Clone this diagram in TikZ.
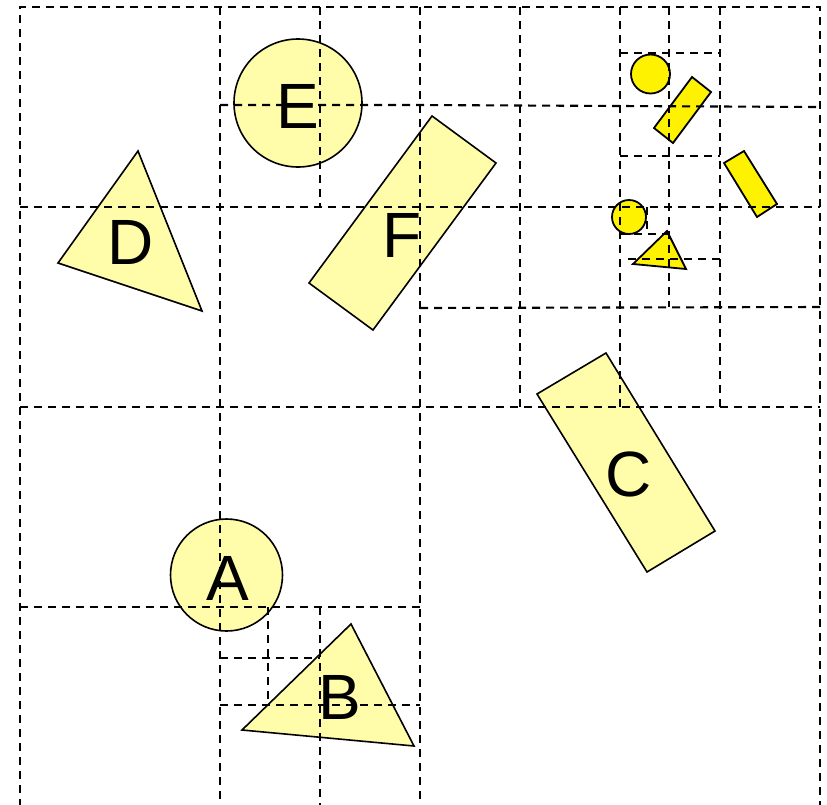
\documentclass[tikz,border=0pt]{standalone}
\usepackage{fontspec}
\setmainfont{Liberation Sans}
\begin{document}
\begin{tikzpicture}[x=1pt,y=-1pt,
  grid/.style={draw=black,line width=2.1pt,dash pattern=on 8pt off 6pt},
  pale/.style={draw=black,line width=1.6pt,fill=paleyellow},
  bright/.style={draw=black,line width=1.8pt,fill=yellow},
  lbl/.style={inner sep=0pt,anchor=base,font=\fontsize{64}{70}\selectfont}]
\definecolor{paleyellow}{HTML}{FFFCAA}
\useasboundingbox (0,0) rectangle (827,804);
\clip (0,0) rectangle (827,804);
% big shapes
\draw[pale] (298,103) circle (64);
\draw[pale] (226.5,575) circle (56);
\draw[pale] (138,151) -- (58,263) -- (202,311) -- cycle;
\draw[pale] (351,624) -- (242,730) -- (414,746) -- cycle;
\draw[pale] (432,116) -- (496,163) -- (373,330) -- (309,283) -- cycle;
\draw[pale] (537,394) -- (606,353) -- (715,531) -- (647,572) -- cycle;
% small bright shapes
\draw[bright] (650.5,74) circle (19.5);
\draw[bright] (692,77) -- (711,92) -- (673,143) -- (654,128) -- cycle;
\draw[bright] (724,163) -- (744,151) -- (777,204) -- (757,217) -- cycle;
\draw[bright] (629,217) circle (17);
\draw[bright] (667,231) -- (633,264) -- (686,269) -- cycle;
% grid lines
\draw[grid] (20,807) -- (20,7) -- (820,7) -- (820,807);
\draw[grid] (220,7) -- (220,807);
\draw[grid] (420,7) -- (420,807);
\draw[grid] (520,7) -- (520,407);
\draw[grid] (620,7) -- (620,407);
\draw[grid] (720,7) -- (720,407);
\draw[grid] (320,7) -- (320,207);
\draw[grid] (320,607) -- (320,807);
\draw[grid] (669,7) -- (669,307);
\draw[grid] (268,607) -- (268,705);
\draw[grid] (647,207) -- (647,234);
\draw[grid] (20,207) -- (820,207);
\draw[grid] (20,407) -- (820,407);
\draw[grid] (20,607) -- (420,607);
\draw[grid] (220,105) -- (420,105) -- (820,107);
\draw[grid] (420,308) -- (820,307);
\draw[grid] (220,705) -- (420,705);
\draw[grid] (220,658) -- (320,658);
\draw[grid] (620,53) -- (720,53);
\draw[grid] (620,156) -- (720,156);
\draw[grid] (628,259) -- (720,259);
\draw[grid] (620,234) -- (670,234);
% labels
\node[lbl] (E) at (298,128) {E};
\node[lbl] (D) at (130.5,264) {D};
\node[lbl] (F) at (402,257) {F};
\node[lbl] (A) at (227.5,600) {A};
\node[lbl] (B) at (339.5,719) {B};
\node[lbl] (C) at (628.5,496) {C};
\end{tikzpicture}
\end{document}
